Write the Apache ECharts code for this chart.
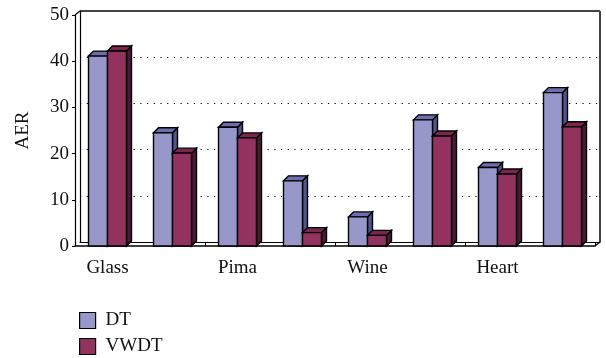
<!DOCTYPE html>
<html>
<head>
<meta charset="utf-8">
<script src="https://cdn.jsdelivr.net/npm/echarts@6/dist/echarts.min.js"></script>
<style>
  html, body { margin: 0; padding: 0; background: #fff; }
  #chart { width: 606px; height: 358px; }
</style>
</head>
<body>
<div id="chart"></div>
<script>
// datasets, only every other name is printed on the axis
const categories = ['Glass', 'Iris', 'Pima', 'Sonar', 'Wine', 'Vehicle', 'Heart', 'Ionosphere']
const dtValues = [41.1, 24.5, 25.7, 14.1, 6.3, 27.3, 17.0, 33.2]
const vwdtValues = [42.2, 20.1, 23.4, 2.9, 2.3, 23.8, 15.6, 25.8]
const yTicks = { min: 0, max: 50, interval: 10 }
const seriesNames = ['DT', 'VWDT']

const FONT = 'Liberation Serif'
const FS = 19
const BAR_W = 19
const DX = 5
const DY = 5

// front face, top face, side face
const dtColors = ['#9797ca', '#6d6db0', '#53538f']
const vwdtColors = ['#92325f', '#7a274f', '#4a1a34']

function bar3d(slot, colors) {
  return function (params, api) {
    const top = api.coord([api.value(0), api.value(1)])
    const base = api.coord([api.value(0), 0])
    const x0 = slot === 0 ? top[0] - BAR_W : top[0]
    const x1 = x0 + BAR_W
    const y = top[1]
    const yb = base[1]
    const line = { stroke: '#000', lineWidth: 1.4 }
    return {
      type: 'group',
      children: [
        {
          type: 'polygon',
          shape: { points: [[x1, yb], [x1 + DX, yb - DY], [x1 + DX, y - DY], [x1, y]] },
          style: Object.assign({ fill: colors[2] }, line),
        },
        {
          type: 'polygon',
          shape: { points: [[x0, y], [x0 + DX, y - DY], [x1 + DX, y - DY], [x1, y]] },
          style: Object.assign({ fill: colors[1] }, line),
        },
        {
          type: 'rect',
          shape: { x: x0, y: y, width: BAR_W, height: yb - y },
          style: Object.assign({ fill: colors[0] }, line),
        },
      ],
    }
  }
}

function legendFor(name, top) {
  return {
    left: 74,
    top: top,
    itemWidth: 16,
    itemHeight: 16,
    icon: 'rect',
    textStyle: { fontFamily: FONT, fontSize: FS, color: '#111', padding: [0, 0, 0, 5] },
    itemStyle: { borderColor: '#000', borderWidth: 1.2 },
    data: [name],
  }
}

const chart = echarts.init(document.getElementById('chart'))

const option = {
  animation: false,
  backgroundColor: '#fff',
  textStyle: { fontFamily: FONT, color: '#111' },
  grid: [
    { left: 75, right: 11, top: 15, bottom: 112 },
    { left: 80, right: 6, top: 11, bottom: 116 },
  ],
  legend: [legendFor(seriesNames[0], 306), legendFor(seriesNames[1], 332)],
  xAxis: [
    {
      type: 'category',
      gridIndex: 0,
      data: categories,
      axisLine: { lineStyle: { color: '#000', width: 1.5 } },
      axisTick: { show: true, inside: true, length: 4, lineStyle: { color: '#000' } },
      axisLabel: { interval: 1, margin: 13, fontFamily: FONT, fontSize: FS, color: '#111' },
    },
    {
      type: 'category',
      gridIndex: 1,
      data: categories,
      axisLine: { lineStyle: { color: '#000', width: 1.2 } },
      axisTick: { show: false },
      axisLabel: { show: false },
    },
  ],
  yAxis: [
    {
      type: 'value',
      gridIndex: 0,
      min: yTicks.min,
      max: yTicks.max,
      interval: yTicks.interval,
      name: 'AER',
      nameLocation: 'middle',
      nameGap: 42,
      nameTextStyle: { fontFamily: FONT, fontSize: FS, color: '#111' },
      axisLine: { show: true, lineStyle: { color: '#000', width: 1.2 } },
      axisTick: { show: true, length: 3, lineStyle: { color: '#000' } },
      axisLabel: { margin: 6, fontFamily: FONT, fontSize: FS, color: '#111' },
      splitLine: { show: false },
    },
    {
      type: 'value',
      gridIndex: 1,
      min: yTicks.min,
      max: yTicks.max,
      interval: yTicks.interval,
      axisLine: { show: true, lineStyle: { color: '#000', width: 1.2 } },
      axisTick: { show: false },
      axisLabel: { show: false },
      splitLine: {
        show: true,
        showMinLine: false,
        showMaxLine: false,
        lineStyle: { color: '#000', width: 1.2, type: [1.2, 5.5] },
      },
    },
  ],
  graphic: [
    // top and right frame of the back wall
    { type: 'line', shape: { x1: 80, y1: 11, x2: 600, y2: 11 }, style: { stroke: '#444', lineWidth: 2 } },
    { type: 'line', shape: { x1: 600, y1: 11, x2: 600, y2: 242 }, style: { stroke: '#444', lineWidth: 2 } },
    { type: 'line', shape: { x1: 75, y1: 15, x2: 80, y2: 11 }, style: { stroke: '#000', lineWidth: 1.2 } },
    { type: 'line', shape: { x1: 595, y1: 246, x2: 600, y2: 242 }, style: { stroke: '#000', lineWidth: 1.2 } },
  ],
  series: [
    {
      name: seriesNames[0],
      type: 'custom',
      xAxisIndex: 0,
      yAxisIndex: 0,
      itemStyle: { color: dtColors[0] },
      renderItem: bar3d(0, dtColors),
      encode: { x: 0, y: 1 },
      data: dtValues.map((v, i) => [i, v]),
      z: 5,
    },
    {
      name: seriesNames[1],
      type: 'custom',
      xAxisIndex: 0,
      yAxisIndex: 0,
      itemStyle: { color: vwdtColors[0] },
      renderItem: bar3d(1, vwdtColors),
      encode: { x: 0, y: 1 },
      data: vwdtValues.map((v, i) => [i, v]),
      z: 6,
    },
  ],
}

chart.setOption(option)
</script>
</body>
</html>
